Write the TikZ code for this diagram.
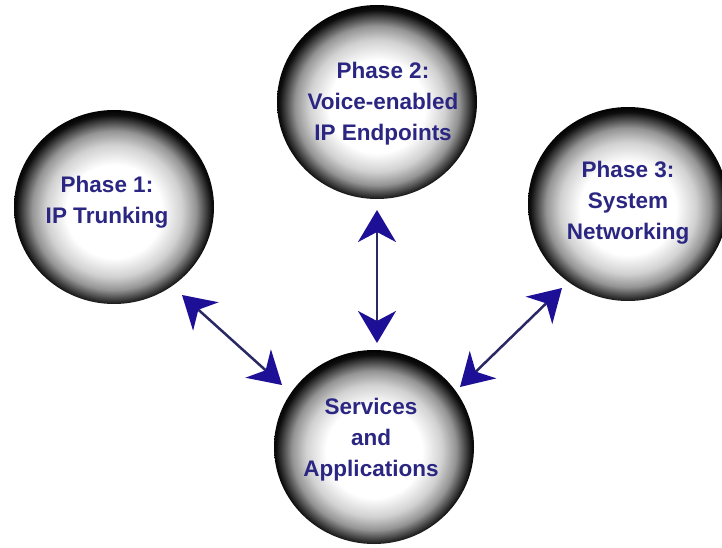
\documentclass[tikz,border=0pt]{standalone}
\usepackage{fontspec}
\setmainfont{Liberation Sans}
\usetikzlibrary{shapes.geometric,arrows.meta}
\definecolor{txtblue}{RGB}{42,38,130}
\definecolor{headblue}{RGB}{30,16,150}
\definecolor{shaftblue}{RGB}{42,40,100}
\pgfdeclareradialshading{sphereshade}{\pgfpoint{0bp}{-1.5bp}}{color(0bp)=(white); color(12bp)=(white); color(17bp)=(black!18); color(20.5bp)=(black!42); color(23bp)=(black!75); color(24.5bp)=(black!95); color(26bp)=(black); color(50bp)=(black)}
\begin{document}
\begin{tikzpicture}[x=1pt,y=-1pt,
  sphere/.style={ellipse, minimum width=200pt, minimum height=194pt, inner sep=0pt, shade, shading=sphereshade},
  spheretext/.style={text=txtblue, font=\fontsize{22.5}{31}\selectfont\bfseries, align=center, inner sep=0pt},
  link/.style={line width=2.5pt, draw=shaftblue,
    {Stealth[length=32pt,width=38pt,inset=10pt,color=headblue]}-{Stealth[length=32pt,width=38pt,inset=10pt,color=headblue]}}]
\useasboundingbox (0,0) rectangle (722,548);
\fill[white] (0,0) rectangle (722,548);
\begin{scope}
\clip (0,0) rectangle (722,548);
\node[sphere] (p1) at (114,207) {};
\node[sphere] (p2) at (377,102) {};
\node[sphere] (p3) at (628,204) {};
\node[sphere] (s) at (374,447) {};
\end{scope}
\node[spheretext] (t1) at (107,202) {Phase 1:\\IP Trunking};
\node[spheretext] (t2) at (383,104) {Phase 2:\\Voice-enabled\\IP Endpoints};
\node[spheretext] (t3) at (628,203) {Phase 3:\\System\\Networking};
\node[spheretext] (ts) at (371,440) {Services\\and\\Applications};
\coordinate (a1) at (182,295);
\coordinate (b1) at (282,385);
\coordinate (a2) at (377,210);
\coordinate (b2) at (377,343);
\coordinate (a3) at (562,288);
\coordinate (b3) at (460,387);
\draw[link] (a1) -- (b1);
\draw[link] (a2) -- (b2);
\draw[link] (a3) -- (b3);
\end{tikzpicture}
\end{document}
